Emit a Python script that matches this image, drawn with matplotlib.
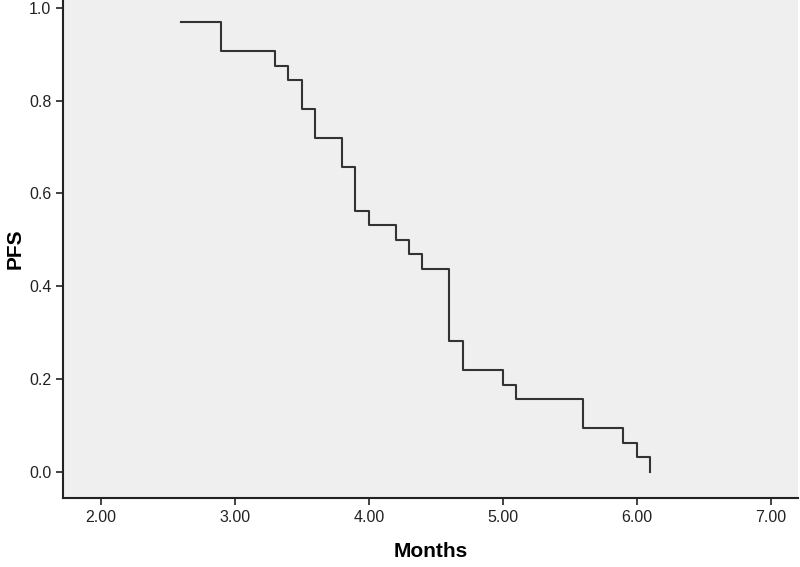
import matplotlib.pyplot as plt
import numpy as np

# Kaplan-Meier PFS step data (months, survival proportion)
months = [2.6, 2.9, 3.3, 3.4, 3.5, 3.6, 3.8, 3.9, 4.0, 4.2, 4.3, 4.4,
          4.6, 4.7, 5.0, 5.1, 5.6, 5.9, 6.0, 6.1]
pfs = [0.969, 0.906, 0.875, 0.844, 0.781, 0.719, 0.656, 0.5625, 0.531,
       0.500, 0.469, 0.4375, 0.281, 0.219, 0.1875, 0.156, 0.094, 0.0625,
       0.031, 0.0]
xticks = [2, 3, 4, 5, 6, 7]
yticks = [0.0, 0.2, 0.4, 0.6, 0.8, 1.0]

plt.rcParams['font.family'] = ['Liberation Sans', 'DejaVu Sans']

fig = plt.figure(figsize=(8, 5.67), dpi=100)
ax = fig.add_axes([0.079, 0.122, 0.918, 0.878])
ax.set_facecolor('#efefef')

ax.step(months, pfs, where='post', color='#333333', lw=1.5)

ax.set_xlim(1.72, 7.2)
ax.set_ylim(-0.056, 1.017)
ax.set_xticks(xticks)
ax.set_xticklabels([f'{v:.2f}' for v in xticks])
ax.set_yticks(yticks)
ax.set_yticklabels([f'{v:.1f}' for v in yticks])

for s in ['top', 'right']:
    ax.spines[s].set_visible(False)
for s in ['left', 'bottom']:
    ax.spines[s].set_color('#222222')
    ax.spines[s].set_linewidth(1.5)

ax.tick_params(axis='both', labelsize=11.5, colors='#222222', length=5, width=1.2)
ax.set_xlabel('Months', fontsize=15, fontweight='bold')
ax.set_ylabel('PFS', fontsize=15, fontweight='bold')
ax.xaxis.set_label_coords(0.5, -0.088)
ax.yaxis.set_label_coords(-0.052, 0.5)

fig.savefig('out.png', dpi=100)
